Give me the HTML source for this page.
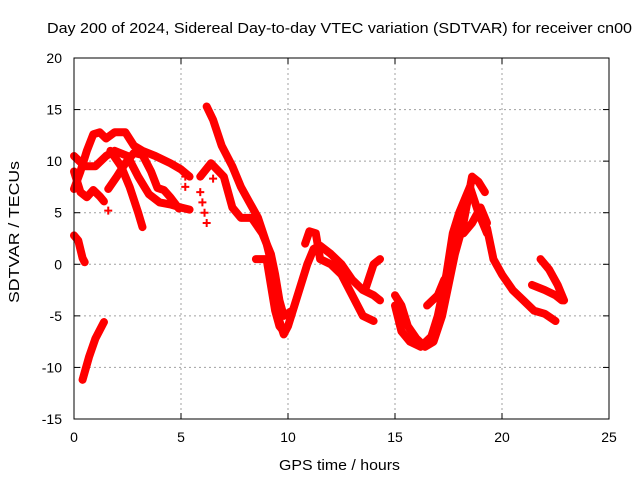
<!DOCTYPE html>
<html><head><meta charset="utf-8"><style>
body{margin:0;background:#fff;}
svg{display:block;font-family:"Liberation Sans",sans-serif;}
</style></head><body>
<svg id="chart" width="640" height="480" viewBox="0 0 640 480">
<text x="47" y="33" font-size="15" textLength="585" lengthAdjust="spacingAndGlyphs">Day 200 of 2024, Sidereal Day-to-day VTEC variation (SDTVAR) for receiver cn00</text>
<g id="grid"></g>
<g id="ticks"></g>
<g id="series"></g>
<rect x="74" y="58" width="535" height="361" fill="none" stroke="#000" stroke-width="1"/>
<text x="279" y="470" font-size="15" textLength="121" lengthAdjust="spacingAndGlyphs">GPS time / hours</text>
<text transform="translate(19,303) rotate(-90)" font-size="15" textLength="142" lengthAdjust="spacingAndGlyphs">SDTVAR / TECUs</text>
</svg>
<script>
const xTicks=[0,5,10,15,20,25];
const yTicks=[-15,-10,-5,0,5,10,15,20];
const trackA=[[0,7.3],[0.3,9],[0.6,11],[0.9,12.6],[1.2,12.8],[1.5,12.2],[1.9,12.8],[2.4,12.8],[2.8,11.5],[3.2,11],[3.8,10.5],[4.5,9.8],[5,9.2],[5.4,8.5]];
const trackB=[[0,10.5],[0.5,9.5],[1,9.5],[1.5,10.5],[1.9,11],[2.5,10.5],[3,8.5],[3.5,6.8],[4,6],[4.5,5.8],[5,5.5],[5.4,5.3]];
const trackC=[[1.7,11],[2.2,9.5],[2.6,7.5],[3,5],[3.2,3.6]];
const trackD=[[1.6,7.3],[2,8.5],[2.4,9.8],[2.8,10.8],[3.2,10.6],[3.6,9],[3.9,7.4],[4.2,7.2],[4.5,6.5],[4.9,5.4]];
const trackE=[[0,9],[0.3,7],[0.6,6.5],[0.9,7.2],[1.2,6.6],[1.4,6.1]];
const trackF=[[0,2.8],[0.2,2.3],[0.4,0.6],[0.5,0.2]];
const trackG=[[0.4,-11.2],[0.7,-9],[1,-7.2],[1.4,-5.6]];
const trackH=[[6.2,15.3],[6.5,14],[6.9,11.5],[7.4,9.5],[7.8,7.5],[8.2,6],[8.6,4.5],[9,2],[9.3,-0.5],[9.5,-3],[9.6,-5.5],[9.8,-6.8],[10,-6],[10.3,-4],[10.6,-2],[10.9,0],[11.2,1.5],[11.5,1.8],[12,1],[12.5,0],[13,-1.5],[13.5,-2.5],[14,-3],[14.3,-3.5]];
const trackI=[[5.9,8.5],[6.4,9.8],[7,8.5],[7.4,5.5],[7.8,4.5],[8.3,4.5],[8.8,3],[9.2,1],[9.4,-1],[9.6,-3.5],[9.8,-5],[10.2,-4.5]];
const trackJ=[[8.5,0.5],[9,0.5],[9.2,-2],[9.4,-4.5],[9.6,-6],[9.8,-6.5]];
const trackK=[[10.8,2],[11,3.2],[11.3,3],[11.5,0.5],[12,0],[12.5,-1],[13,-3],[13.5,-5],[14,-5.5]];
const trackL=[[13.6,-2.5],[14,0],[14.3,0.5]];
const trackM=[[15,-3],[15.3,-4],[15.6,-6],[16,-7.2],[16.4,-8],[16.8,-7.5],[17.2,-5],[17.5,-2],[17.8,1],[18.2,4],[18.6,8.5],[18.9,8],[19.2,7]];
const trackN=[[15,-4],[15.3,-6.5],[15.7,-7.5],[16.2,-8],[16.7,-7],[17,-5],[17.4,-1],[17.7,3],[18,5],[18.5,7.5],[18.9,5],[19.3,3]];
const trackO=[[16.5,-4],[17,-3],[17.3,-1.5]];
const trackP=[[18.2,3],[18.6,4],[19,5.5],[19.3,4]];
const trackQ=[[19.3,3.5],[19.6,0.5],[20,-1],[20.5,-2.5],[21,-3.5],[21.5,-4.5],[22,-4.8],[22.5,-5.5]];
const trackR=[[21.4,-2],[22,-2.5],[22.5,-3],[22.8,-3.5]];
const trackS=[[21.8,0.5],[22.2,-0.5],[22.6,-2],[22.9,-3.5]];
const tracks=[trackA,trackB,trackC,trackD,trackE,trackF,trackG,trackH,trackI,trackJ,trackK,trackL,trackM,trackN,trackO,trackP,trackQ,trackR,trackS];
const extraX=[1.6,5.2,5.2,6,6.1,6.2,5.9,6.5];
const extraY=[5.2,8.5,7.5,6,5,4,7,8.3];

const NS="http://www.w3.org/2000/svg";
const X0=74,X1=609,Y0=419,Y1=58;
function sx(v){return X0+(v-0)/(25-0)*(X1-X0);}
function sy(v){return Y0-(v+15)/(35)*(Y0-Y1);}
function mk(tag,attrs,parent){const e=document.createElementNS(NS,tag);for(const k in attrs)e.setAttribute(k,attrs[k]);parent.appendChild(e);return e;}
const grid=document.getElementById('grid'),ticks=document.getElementById('ticks'),series=document.getElementById('series');
xTicks.forEach(t=>{
 const x=sx(t);
 if(t>0&&t<25){const g=mk('line',{x1:x,x2:x,y1:Y1,y2:Y0,stroke:'#a0a0a0','stroke-dasharray':'2,3'},grid);
 
 }
 mk('line',{x1:x,x2:x,y1:Y0,y2:Y0-6,stroke:'#000'},ticks);
 mk('line',{x1:x,x2:x,y1:Y1,y2:Y1+6,stroke:'#000'},ticks);
 const l=mk('text',{x:x,y:Y0+23,'font-size':14,'text-anchor':'middle'},ticks);l.textContent=t;
 
 
});
yTicks.forEach(t=>{
 const y=sy(t);
 if(t>-15&&t<20){const g=mk('line',{x1:X0,x2:X1,y1:y,y2:y,stroke:'#a0a0a0','stroke-dasharray':'2,3'},grid);
 
 }
 mk('line',{x1:X0,x2:X0+6,y1:y,y2:y,stroke:'#000'},ticks);
 mk('line',{x1:X1,x2:X1-6,y1:y,y2:y,stroke:'#000'},ticks);
 const l=mk('text',{x:X0-12,y:y+5,'font-size':14,'text-anchor':'end'},ticks);l.textContent=t;
 
 
});
tracks.forEach(tr=>{
 const p=mk('polyline',{points:tr.map(d=>sx(d[0])+','+sy(d[1])).join(' '),fill:'none',stroke:'#ff0000','stroke-width':8,'stroke-linejoin':'round','stroke-linecap':'round'},series);
 
 
});
extraX.forEach((v,i)=>{
 const x=sx(v),y=sy(extraY[i]);
 const p=mk('path',{d:`M${x-4},${y}H${x+4}M${x},${y-4}V${y+4}`,stroke:'#ff0000','stroke-width':2},series);
 
 
});
</script>
</body></html>
